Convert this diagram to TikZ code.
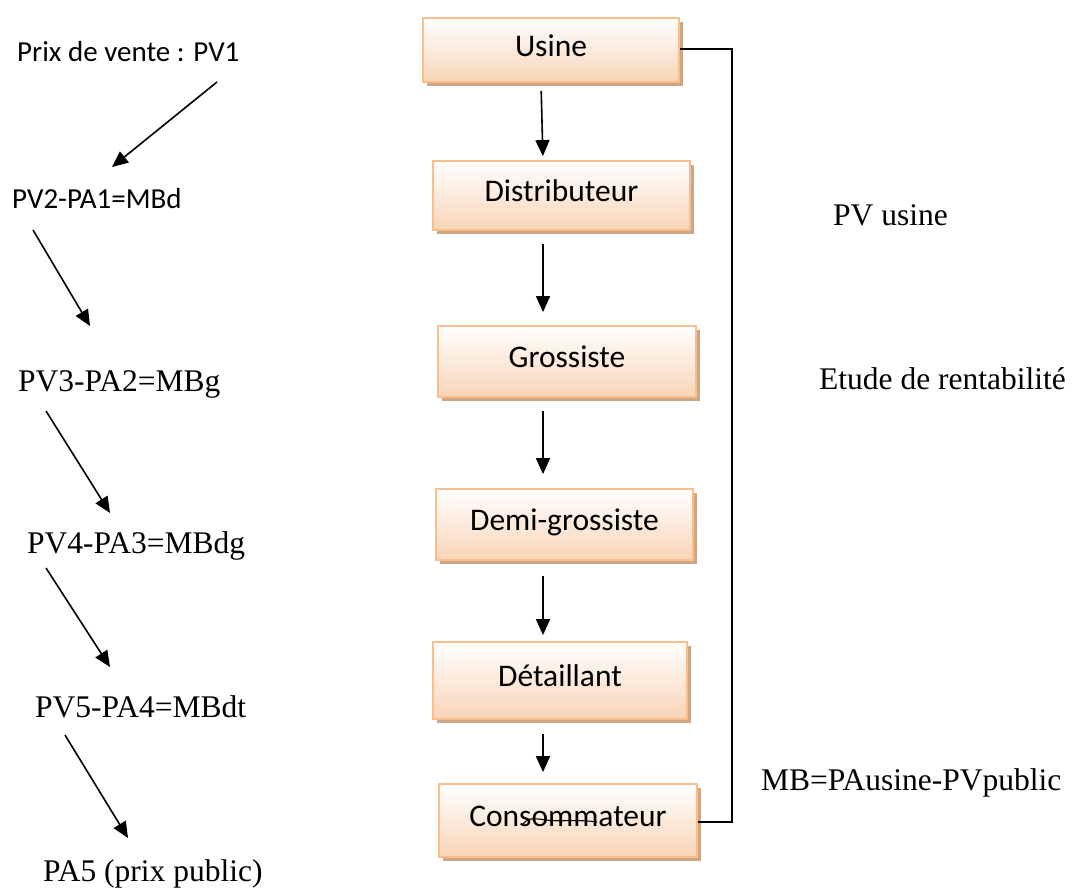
\documentclass[tikz,border=0pt]{standalone}
\usepackage{fontspec}
\setmainfont{Liberation Serif}
\newfontfamily\calib{Carlito}
\usetikzlibrary{arrows.meta,shadows}

\definecolor{peach}{RGB}{248,212,182}
\definecolor{peachline}{RGB}{250,190,140}
\definecolor{shadowtan}{RGB}{206,166,132}

\begin{document}
\begin{tikzpicture}[x=1pt,y=-1pt,
  stage/.style={rectangle, draw=peachline, line width=1.8pt,
    top color=white, bottom color=peach, inner sep=0pt,
    text height=20pt, text depth=8pt,
    font=\calib\fontsize{31.5}{36}\selectfont,
    drop shadow={shadow xshift=4pt, shadow yshift=-4pt, fill=shadowtan, opacity=1}},
  sanslbl/.style={inner sep=0pt, anchor=base west, font=\calib\fontsize{29}{34}\selectfont},
  seriflbl/.style={inner sep=0pt, anchor=base west, font=\fontsize{31.5}{38}\selectfont},
  flow/.style={line width=1.6pt, -{Triangle[width=14pt,length=16pt]}},
  link/.style={line width=1.3pt}
]
\useasboundingbox (0,0) rectangle (1084,887);

% chain of distribution
\node[stage, minimum width=256pt, minimum height=64pt] (usine)   at (551,50)      {Usine};
\node[stage, minimum width=257pt, minimum height=69pt] (distrib) at (561.5,195.5) {Distributeur};
\node[stage, minimum width=258pt, minimum height=71pt] (gros)    at (567,361.5)   {Grossiste};
\node[stage, minimum width=257pt, minimum height=71pt] (demi)    at (564.5,524.5) {Demi-grossiste};
\node[stage, minimum width=254pt, minimum height=77pt] (detail)  at (560,680.5)   {Détaillant};
\node[stage, minimum width=258pt, minimum height=73pt] (conso)   at (568,820.5)   {Consommateur};

% stray pen stroke across the last label
\draw[line width=1.1pt] (523,824) .. controls (527,818) and (533,818) .. (546,820)
  .. controls (560,822) and (575,819) .. (597,822);

% arrows between stages
\draw[flow, shorten <=8pt,  shorten >=4pt]  ([xshift=-10pt]usine.south)     -- ([xshift=-18.5pt]distrib.north);
\draw[flow, shorten <=13pt, shorten >=13pt] ([xshift=-18.5pt]distrib.south) -- ([xshift=-24pt]gros.north);
\draw[flow, shorten <=13pt, shorten >=14pt] ([xshift=-24pt]gros.south)      -- ([xshift=-21.5pt]demi.north);
\draw[flow, shorten <=15pt, shorten >=6pt]  ([xshift=-21.5pt]demi.south)    -- ([xshift=-17pt]detail.north);
\draw[flow, shorten <=14pt, shorten >=11pt] ([xshift=-17pt]detail.south)    -- ([xshift=-25pt]conso.north);

% return bracket from the factory to the consumer
\coordinate (bk) at (732,0);
\draw[link] ([yshift=1pt]usine.east) -- ([yshift=1pt]usine.east -| bk)
  -- ([yshift=-1.5pt]conso.east -| bk) -- ([yshift=-1.5pt]conso.east);

% margin cascade on the left
\node[sanslbl]  (m1) at (17,61)  {Prix de vente : PV1};
\node[sanslbl]  (m2) at (12,208) {PV2-PA1=MBd};
\node[seriflbl] (m3) at (18,391) {PV3-PA2=MBg};
\node[seriflbl] (m4) at (27,553) {PV4-PA3=MBdg};
\node[seriflbl] (m5) at (35,717) {PV5-PA4=MBdt};
\node[seriflbl] (m6) at (43,881) {PA5 (prix public)};

\coordinate (a1s) at (217,82);  \coordinate (a1e) at (112,167);
\coordinate (a2s) at (33,230);  \coordinate (a2e) at (90,326);
\coordinate (a3s) at (46,411);  \coordinate (a3e) at (110,513);
\coordinate (a4s) at (46,568);  \coordinate (a4e) at (110,667);
\coordinate (a5s) at (65,735);  \coordinate (a5e) at (128,838);
\foreach \i in {1,...,5} \draw[flow] (a\i s) -- (a\i e);

% notes on the right
\node[seriflbl] (n1) at (833,225) {PV usine};
\node[seriflbl] (n2) at (819,389) {Etude de rentabilité};
\node[seriflbl] (n3) at (761,790) {MB=PAusine-PVpublic};
\end{tikzpicture}
\end{document}
